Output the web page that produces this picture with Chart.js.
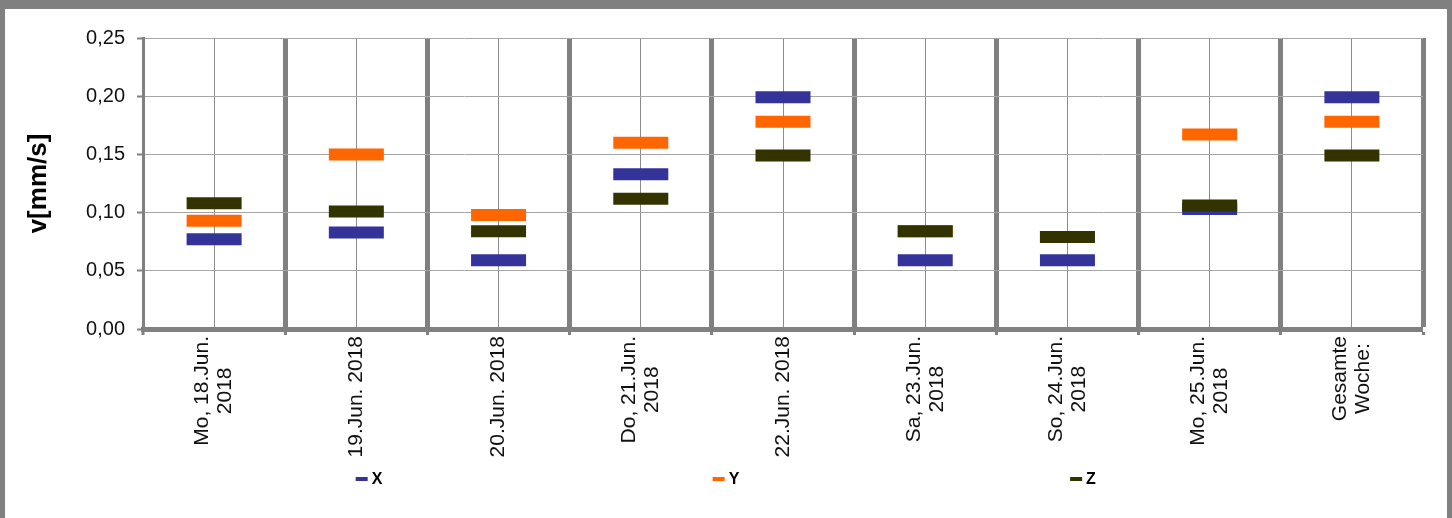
<!DOCTYPE html>
<html lang="de">
<head>
<meta charset="utf-8">
<title>v[mm/s] – X / Y / Z</title>
<script src="https://cdn.jsdelivr.net/npm/chart.js@4.4.1/dist/chart.umd.min.js"></script>
<style>
    html, body { margin: 0; padding: 0; }
    body { width: 1452px; height: 518px; background: #808080; position: relative; overflow: hidden; }
    .panel { position: absolute; left: 5px; top: 9px; width: 1442px; height: 509px; background: #fff; }
    canvas { display: block; }
</style>
</head>
<body>
<div class="panel"><canvas id="chart" width="1442" height="509"></canvas></div>
<script>
// ── Data ─────────────────────────────────────────────────────────────────────
const dayLabels = [
    ['Mo, 18.Jun.', '2018'],
    ['19.Jun. 2018'],
    ['20.Jun. 2018'],
    ['Do, 21.Jun.', '2018'],
    ['22.Jun. 2018'],
    ['Sa, 23.Jun.', '2018'],
    ['So, 24.Jun.', '2018'],
    ['Mo, 25.Jun.', '2018'],
    ['Gesamte', 'Woche:']
];
const xValues = [0.077, 0.083, 0.059, 0.133, 0.199, 0.059, 0.059, 0.103, 0.199];
const yValues = [0.093, 0.150, 0.098, 0.160, 0.178, 0.084, 0.079, 0.167, 0.178];
const zValues = [0.108, 0.101, 0.084, 0.112, 0.149, 0.084, 0.079, 0.106, 0.149];
const yTickValues = [0, 0.05, 0.10, 0.15, 0.20, 0.25];

const FONT = '"Liberation Sans", Arial, Helvetica, sans-serif';
const AXIS_GREY = '#808080';

// ── Dash markers ─────────────────────────────────────────────────────────────
// order: Z is painted last (on top), like the original
function series(label, data, color, order) {
    return {
        label, data, order,
        showLine: false,
        borderColor: color,
        backgroundColor: color,
        pointStyle: 'line',
        pointRadius: 27.5,
        pointHoverRadius: 27.5,
        pointBorderWidth: 12,
        pointHoverBorderWidth: 12,
        pointBorderColor: color,
        pointBackgroundColor: color
    };
}

// ── Rotated, centred category labels (Excel style) ──────────────────────────
const xLabelPlugin = {
    id: 'xLabels',
    afterDraw(chart) {
        const { ctx, scales: { x } } = chart;
        const lineHeight = 23;
        ctx.save();
        ctx.font = `21px ${FONT}`;
        ctx.fillStyle = '#111';
        ctx.textAlign = 'center';
        ctx.textBaseline = 'middle';
        dayLabels.forEach((lines, i) => {
            const px = x.getPixelForTick(i);
            const maxW = Math.max(...lines.map(l => ctx.measureText(l).width));
            const cy = x.top + 7 + maxW / 2;
            lines.forEach((line, j) => {
                const cx = px + (j - (lines.length - 1) / 2) * lineHeight;
                ctx.save();
                ctx.translate(cx, cy);
                ctx.rotate(-Math.PI / 2);
                ctx.fillText(line, 0, 0);
                ctx.restore();
            });
        });
        ctx.restore();
    }
};

// ── Legend spread across the width ───────────────────────────────────────────
const spreadLegend = {
    id: 'spreadLegend',
    afterDraw(chart, args, opts) {
        const { ctx } = chart;
        const sets = chart.data.datasets;
        const y = chart.chartArea.bottom + opts.offsetY;
        const mid = chart.width / 2;
        ctx.save();
        ctx.font = `bold 16px ${FONT}`;
        ctx.textBaseline = 'middle';
        sets.forEach((ds, i) => {
            const itemW = opts.boxWidth + opts.gap + ctx.measureText(ds.label).width;
            const left = mid + (i - (sets.length - 1) / 2) * opts.spacing - itemW / 2;
            ctx.fillStyle = ds.borderColor;
            ctx.fillRect(left, y - opts.boxHeight / 2, opts.boxWidth, opts.boxHeight);
            ctx.fillStyle = '#000';
            ctx.fillText(ds.label, left + opts.boxWidth + opts.gap, y + 1);
        });
        ctx.restore();
    }
};

// ── Chart ────────────────────────────────────────────────────────────────────
new Chart(document.getElementById('chart'), {
    type: 'line',
    data: {
        labels: dayLabels.map(l => l.join(' ')),
        datasets: [
            series('X', xValues, '#333399', 3),
            series('Y', yValues, '#FF6600', 2),
            series('Z', zValues, '#333300', 1)
        ]
    },
    options: {
        responsive: false,
        animation: false,
        events: [],
        layout: { autoPadding: false, padding: { top: 29, right: 24, bottom: 0, left: 18 } },
        plugins: {
            legend: { display: false },
            tooltip: { enabled: false },
            spreadLegend: { spacing: 357, boxWidth: 12, boxHeight: 4, gap: 4, offsetY: 150 }
        },
        scales: {
            x: {
                type: 'category',
                offset: true,
                grid: {
                    offset: true,
                    color: AXIS_GREY,
                    lineWidth: ctx => (ctx.index === 0 ? 0 : 5),
                    drawTicks: true,
                    tickLength: 6,
                    tickWidth: 3,
                    tickColor: AXIS_GREY
                },
                border: { color: AXIS_GREY, width: 5 },
                ticks: { display: false },
                afterFit: s => { s.height = 189; }
            },
            x2: {
                type: 'category',
                position: 'bottom',
                offset: true,
                grid: { offset: false, color: '#8c8c8c', lineWidth: 1, drawTicks: false },
                border: { display: false },
                ticks: { display: false },
                afterFit: s => { s.height = 0; }
            },
            y: {
                min: 0,
                max: 0.25,
                afterBuildTicks: s => { s.ticks = yTickValues.map(v => ({ value: v })); },
                ticks: {
                    padding: 12,
                    color: '#111',
                    font: { family: FONT, size: 20 },
                    callback: v => v.toFixed(2).replace('.', ',')
                },
                grid: {
                    color: '#a6a6a6',
                    lineWidth: 1,
                    tickLength: 6,
                    tickColor: AXIS_GREY,
                    tickWidth: 2
                },
                border: { color: AXIS_GREY, width: 3 },
                title: {
                    display: true,
                    text: 'v[mm/s]',
                    color: '#000',
                    font: { family: FONT, size: 26, weight: 'bold' },
                    padding: { top: 0, bottom: 4 }
                },
                afterFit: s => { s.width = 120; }
            }
        }
    },
    plugins: [xLabelPlugin, spreadLegend]
});
</script>
</body>
</html>
